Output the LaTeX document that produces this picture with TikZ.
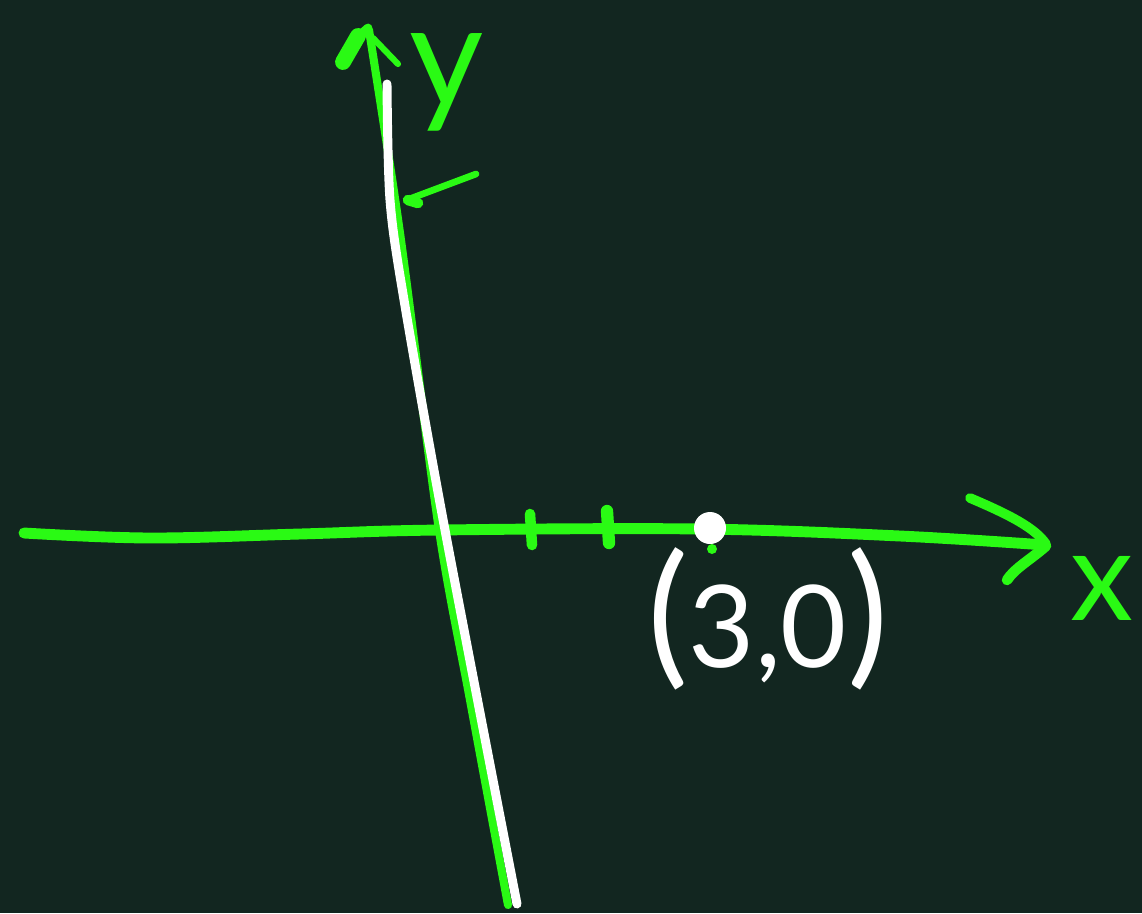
\documentclass[tikz,border=0pt]{standalone}
\usepackage{fontspec}
\setmainfont{Lato}
\definecolor{board}{RGB}{18,38,32}
\definecolor{chalkgreen}{RGB}{42,250,20}
\begin{document}
\begin{tikzpicture}[x=0.02cm,y=-0.02cm, line cap=round, line join=round,
  gline/.style={draw=chalkgreen},
  wline/.style={draw=white},
  glabel/.style={text=chalkgreen, inner sep=0pt},
  wlabel/.style={text=white, inner sep=0pt}]
\fill[board] (0,0) rectangle (1142,913);
\useasboundingbox (0,0) rectangle (1142,913);
% x-axis
\draw[gline, line width=6.2pt] plot[smooth, tension=0.6] coordinates {(24,533) (150,538) (300,534) (440,530) (700,529) (900,536) (1045,545)};
\draw[gline, line width=5.5pt] (970,498) .. controls (1010,515) and (1035,528) .. (1046,544);
\draw[gline, line width=6pt] (1046,546) .. controls (1030,560) and (1015,568) .. (1007,580);
% y-axis (green)
\draw[gline, line width=4.6pt] plot[smooth] coordinates {(508,905) (470,700) (439,530) (400,233) (369,30)};
\draw[gline, line width=9pt] (358,36) -- (343,62);
\draw[gline, line width=5pt] (368,28) -- (352,42);
\draw[gline, line width=3.5pt] (373,38) -- (398,64);
% white line
\draw[wline, line width=5.1pt] plot[smooth] coordinates {(387,84) (390,200) (404,300) (445,530) (517,904)};
% small mark
\draw[gline, line width=3.8pt] (476,174) -- (412,198);
\draw[gline, line width=6pt] (408,200) -- (418,203);
% ticks
\draw[gline, line width=6pt] (530,514) -- (532,545);
\draw[gline, line width=7pt] (607,511) -- (609,543);
% point
\fill[chalkgreen] (712,549) circle (0.1cm);
\fill[white] (710,528) circle (0.32cm);
% labels
\node[glabel, font=\fontsize{82}{82}\selectfont] (ylab) at (447,82) {y};
\node[glabel, font=\fontsize{72}{72}\selectfont] (xlab) at (1102,588) {x};
\node[wlabel, anchor=base, font=\fontsize{65}{65}\selectfont] (pt) at (768,667) {{\fontsize{88}{88}\selectfont(}3,0{\fontsize{88}{88}\selectfont)}};
\end{tikzpicture}
\end{document}
